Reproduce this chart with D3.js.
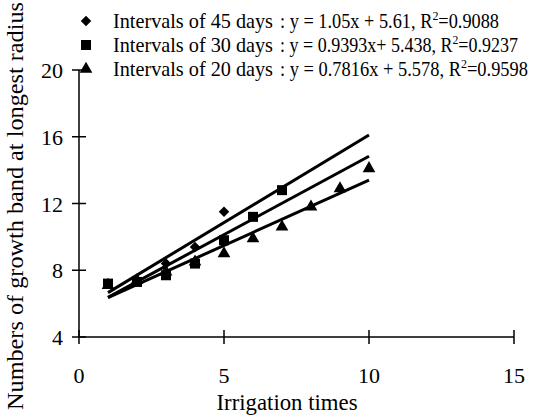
<!DOCTYPE html>
<html>
<head>
<meta charset="utf-8">
<script src="https://cdn.jsdelivr.net/npm/d3@7"></script>
<style>
  body { margin: 0; background: #fff; }
  svg { display: block; }
  text { font-family: "Liberation Serif", "Times New Roman", serif; fill: #000; }
</style>
</head>
<body>
<div id="chart"></div>
<script>
// data
const seriesNames = ["Intervals of 45 days", "Intervals of 30 days", "Intervals of 20 days"];
const equations = [
  ["1.05x + 5.61", "0.9088"],
  ["0.9393x+ 5.438", "0.9237"],
  ["0.7816x + 5.578", "0.9598"]
];
const slopes = [1.05, 0.9393, 0.7816];
const intercepts = [5.61, 5.438, 5.578];
const xs45 = [1, 2, 3, 4, 5];
const ys45 = [7.2, 7.4, 8.4, 9.4, 11.5];
const xs30 = [1, 2, 3, 4, 5, 6, 7];
const ys30 = [7.2, 7.3, 7.7, 8.4, 9.8, 11.2, 12.8];
const xs20 = [1, 2, 3, 4, 5, 6, 7, 8, 9, 10];
const ys20 = [7.1, 7.4, 7.9, 8.5, 9.0, 9.9, 10.6, 11.8, 12.9, 14.1];
const xTicks = [0, 5, 10, 15];
const yTicks = [4, 8, 12, 16, 20];
const trendRange = [1, 10];

const width = 533, height = 415;
const svg = d3.select("#chart").append("svg")
    .attr("width", width)
    .attr("height", height);

const x = d3.scaleLinear().domain([0, 15]).range([79, 514]);
const y = d3.scaleLinear().domain([4, 20]).range([337, 70]);

// axes, with ticks crossing the line
const xAxis = svg.append("g").attr("transform", "translate(0," + y(4) + ")");
xAxis.append("line")
    .attr("x1", x(0)).attr("x2", x(15))
    .attr("stroke", "#000").attr("stroke-width", 1.5);
xAxis.selectAll(".tick").data(xTicks).enter().append("line")
    .attr("x1", d => x(d)).attr("x2", d => x(d))
    .attr("y1", -7).attr("y2", 7)
    .attr("stroke", "#000").attr("stroke-width", 1.5);
xAxis.selectAll(".lbl").data(xTicks).enter().append("text")
    .attr("x", d => x(d)).attr("y", 46)
    .attr("text-anchor", "middle")
    .style("font-size", "22px")
    .text(d => d);

const yAxis = svg.append("g").attr("transform", "translate(" + x(0) + ",0)");
yAxis.append("line")
    .attr("y1", y(4)).attr("y2", y(20))
    .attr("stroke", "#000").attr("stroke-width", 1.5);
yAxis.selectAll(".tick").data(yTicks).enter().append("line")
    .attr("y1", d => y(d)).attr("y2", d => y(d))
    .attr("x1", -7).attr("x2", 7)
    .attr("stroke", "#000").attr("stroke-width", 1.5);
yAxis.selectAll(".lbl").data(yTicks).enter().append("text")
    .attr("x", -16).attr("y", d => y(d) + 8)
    .attr("text-anchor", "end")
    .style("font-size", "22px")
    .text(d => d);

svg.append("text")
    .attr("x", 287).attr("y", 410)
    .attr("text-anchor", "middle")
    .style("font-size", "23px")
    .attr("textLength", 141)
    .attr("lengthAdjust", "spacingAndGlyphs")
    .text("Irrigation times");

svg.append("text")
    .attr("transform", "translate(23,206) rotate(-90)")
    .attr("text-anchor", "middle")
    .style("font-size", "24px")
    .attr("textLength", 408)
    .attr("lengthAdjust", "spacingAndGlyphs")
    .text("Numbers of growth band at longest radius");

// trend lines
const trends = slopes.map((s, i) => trendRange.map(v => [v, s * v + intercepts[i]]));
svg.selectAll(".trend").data(trends).enter().append("path")
    .attr("d", d3.line().x(d => x(d[0])).y(d => y(d[1])))
    .attr("fill", "none")
    .attr("stroke", "#000")
    .attr("stroke-width", 3);

// markers (diamond = square turned 45 degrees)
const shapes = [
  d3.symbol().type(d3.symbolSquare).size(55),
  d3.symbol().type(d3.symbolSquare).size(100),
  d3.symbol().type(d3.symbolTriangle).size(70)
];
const turn = [45, 0, 0];
const pts = [
  xs45.map((v, i) => [v, ys45[i]]),
  xs30.map((v, i) => [v, ys30[i]]),
  xs20.map((v, i) => [v, ys20[i]])
];
pts.forEach((p, k) => {
  svg.selectAll(".m" + k).data(p).enter().append("path")
      .attr("d", shapes[k])
      .attr("transform", d => "translate(" + x(d[0]) + "," + y(d[1]) + ") rotate(" + turn[k] + ")")
      .attr("fill", "#000");
});

// legend
const legendY = [21, 45, 69];
const nameWidth = 160;
const eqWidths = [219, 238, 248];
const legend = svg.selectAll(".leg").data(seriesNames).enter().append("g")
    .attr("transform", (d, i) => "translate(0," + legendY[i] + ")");
legend.append("path")
    .attr("d", (d, i) => shapes[i]())
    .attr("transform", (d, i) => "translate(86,0) rotate(" + turn[i] + ")")
    .attr("fill", "#000");
legend.append("text")
    .attr("x", 113).attr("y", 7)
    .style("font-size", "21px")
    .attr("textLength", nameWidth)
    .attr("lengthAdjust", "spacingAndGlyphs")
    .text(d => d);
const eq = legend.append("text")
    .attr("x", 280).attr("y", 7)
    .style("font-size", "20px")
    .attr("textLength", (d, i) => eqWidths[i])
    .attr("lengthAdjust", "spacingAndGlyphs");
eq.append("tspan").text((d, i) => ": y = " + equations[i][0] + ", R");
eq.append("tspan").attr("dy", -8).style("font-size", "13px").text("2");
eq.append("tspan").attr("dy", 8).text((d, i) => "=" + equations[i][1]);
</script>
</body>
</html>
